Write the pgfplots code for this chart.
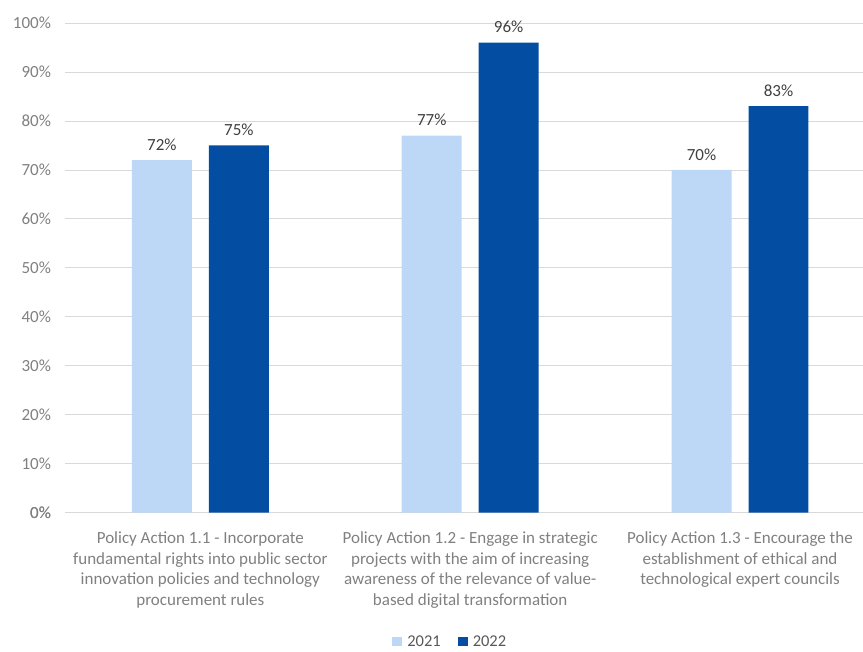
\documentclass[border=0pt]{standalone}
\usepackage{fontspec}
\setmainfont{Carlito}
\usepackage{pgfplots}
\pgfplotsset{compat=1.18}
\definecolor{light}{RGB}{189,215,247}
\definecolor{dark}{RGB}{3,78,162}
\definecolor{gridc}{RGB}{217,217,217}
\definecolor{ticktext}{RGB}{128,128,128}
\definecolor{labtext}{RGB}{64,64,64}
\definecolor{legtext}{RGB}{89,89,89}
\begin{document}
\begin{tikzpicture}
\path (-65.5bp,-133bp) rectangle (797.5bp,513bp);
\begin{axis}[
  scale only axis,
  width=797.5bp, height=490bp,
  at={(0,0)}, anchor=south west,
  xmin=-0.5, xmax=2.454,
  ymin=0, ymax=100,
  ybar=17bp, bar width=60bp,
  axis line style={draw=none},
  major tick length=0pt,
  ytick={0,10,...,100},
  ymajorgrids, grid style={gridc, line width=0.8bp},
  extra y ticks={0}, extra y tick style={grid style={gridc,line width=1bp}},
  /pgf/number format/assume math mode=true,
  yticklabel={\pgfmathprintnumber{\tick}\%},
  yticklabel style={font=\fontsize{17bp}{20bp}\selectfont, text=ticktext, xshift=-11bp},
  xtick={0,1,2},
  xticklabels={{Policy Action 1.1 - Incorporate\\fundamental rights into public sector\\innovation policies and technology\\procurement rules},
               {Policy Action 1.2 - Engage in strategic\\projects with the aim of increasing\\awareness of the relevance of value-\\based digital transformation},
               {Policy Action 1.3 - Encourage the\\establishment of ethical and\\technological expert councils}},
  xticklabel style={font=\fontsize{17bp}{21bp}\selectfont, text=ticktext, align=center, anchor=north, yshift=-15bp},
  nodes near coords={\pgfmathprintnumber{\pgfplotspointmeta}\%},
  nodes near coords style={font=\fontsize{17bp}{20bp}\selectfont, text=labtext, anchor=south, yshift=6bp},
  legend style={at={(0.4828,-0.263)}, anchor=center, draw=none, legend columns=2,
    font=\fontsize{16.5bp}{20bp}\selectfont, text=legtext,
    /tikz/every odd column/.append style={column sep=3bp},
    /tikz/every even column/.append style={column sep=15bp}},
  legend image code/.code={\fill[#1,draw=none] (0bp,-4.5bp) rectangle (10bp,5bp);},
]
\addplot[fill=light, draw=none] coordinates {(0,72) (1,77) (2,70)};
\addplot[fill=dark, draw=none] coordinates {(0,75) (1,96) (2,83)};
\legend{2021,2022}
\end{axis}
\end{tikzpicture}
\end{document}
